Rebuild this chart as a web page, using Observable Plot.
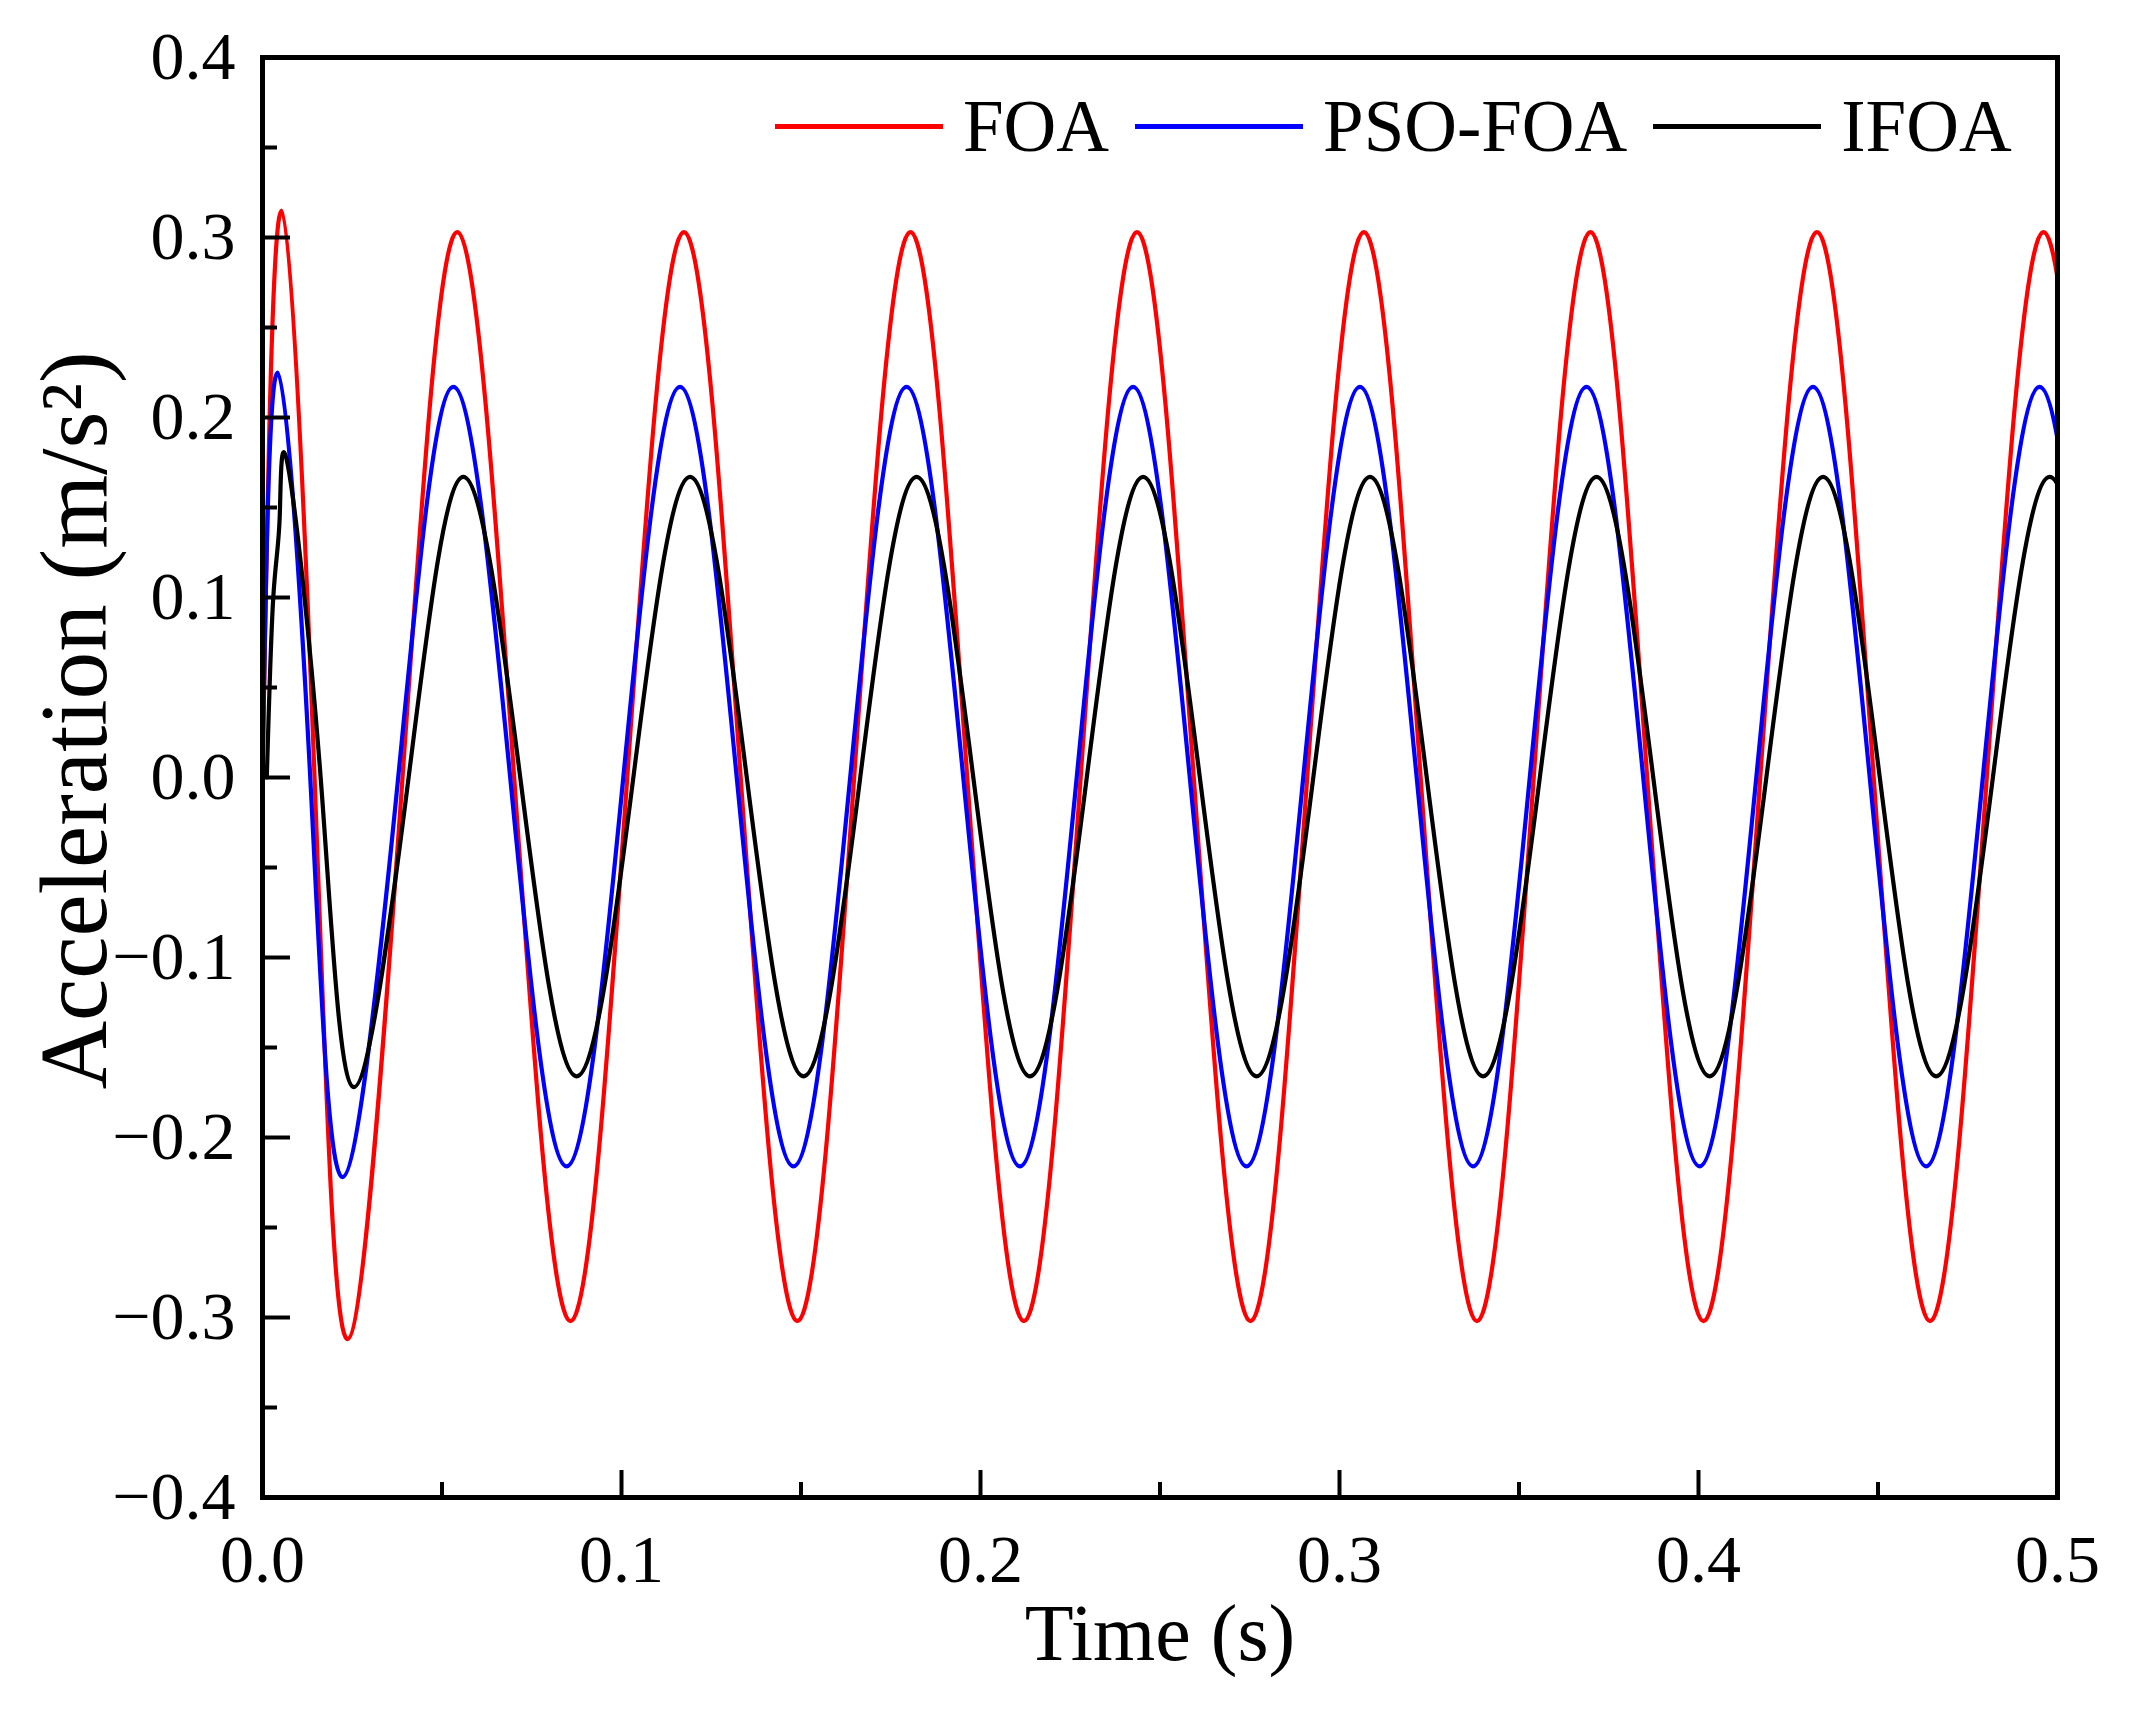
<!DOCTYPE html>
<html>
<head>
<meta charset="utf-8">
<script src="https://cdn.jsdelivr.net/npm/d3@7"></script>
<script src="https://cdn.jsdelivr.net/npm/@observablehq/plot@0.6"></script>
<style>
  body { margin: 0; background: #fff; }
  #chart { position: relative; width: 2142px; height: 1717px; }
  #legend {
    position: absolute; left: 775px; top: 90px;
    display: flex; align-items: center;
    font-family: "Liberation Serif", serif; font-size: 73px; line-height: 1;
  }
  #legend .sw { width: 168px; height: 4.5px; margin-right: 20px; }
  #legend .lb { margin-right: 26px; }
</style>
</head>
<body>
<div id="chart"><div id="legend"></div></div>
<script>
// series: time (s) of peaks / zero crossings / troughs
const seriesNames = ["FOA", "PSO-FOA", "IFOA"];
const seriesColors = ["#ff0000", "#0000ff", "#000000"];

const tFOA = [0, 0.0053, 0.0145, 0.0237, 0.0390, 0.0543, 0.0701, 0.0858, 0.1016, 0.1174,
  0.1332, 0.1490, 0.1648, 0.1805, 0.1963, 0.2121, 0.2279, 0.2436, 0.2594, 0.2752,
  0.2910, 0.3068, 0.3226, 0.3383, 0.3541, 0.3699, 0.3857, 0.4014, 0.4172, 0.4330,
  0.4488, 0.4645, 0.4803, 0.4961, 0.5119];
const aFOA = [0, 0.315, 0, -0.312, 0, 0.303, 0, -0.302, 0, 0.303,
  0, -0.302, 0, 0.303, 0, -0.302, 0, 0.303, 0, -0.302,
  0, 0.303, 0, -0.302, 0, 0.303, 0, -0.302, 0, 0.303,
  0, -0.302, 0, 0.303, 0];

const tPSO = [0, 0.0042, 0.0133, 0.0223, 0.0378, 0.0532, 0.0690, 0.0847, 0.1005, 0.1163,
  0.1321, 0.1479, 0.1637, 0.1794, 0.1952, 0.2110, 0.2268, 0.2425, 0.2583, 0.2741,
  0.2899, 0.3057, 0.3215, 0.3372, 0.3530, 0.3688, 0.3846, 0.4003, 0.4161, 0.4319,
  0.4477, 0.4634, 0.4792, 0.4950, 0.5108];
const aPSO = [0, 0.225, 0, -0.222, 0, 0.217, 0, -0.216, 0, 0.217,
  0, -0.216, 0, 0.217, 0, -0.216, 0, 0.217, 0, -0.216,
  0, 0.217, 0, -0.216, 0, 0.217, 0, -0.216, 0, 0.217,
  0, -0.216, 0, 0.217, 0];

const tIFOA = [0.0012, 0.0030, 0.0048, 0.0070, 0.0162, 0.0254, 0.0407, 0.0560, 0.0718,
  0.0875, 0.1033, 0.1191, 0.1349, 0.1507, 0.1665, 0.1822, 0.1980, 0.2138, 0.2296,
  0.2453, 0.2611, 0.2769, 0.2927, 0.3085, 0.3243, 0.3400, 0.3558, 0.3716, 0.3874,
  0.4031, 0.4189, 0.4347, 0.4505, 0.4662, 0.4820, 0.4978, 0.5136];
const aIFOA = [0, 0.10, 0.145, 0.174, 0, -0.172, 0, 0.167, 0,
  -0.166, 0, 0.167, 0, -0.166, 0, 0.167, 0, -0.166, 0,
  0.167, 0, -0.166, 0, 0.167, 0, -0.166, 0, 0.167, 0,
  -0.166, 0, 0.167, 0, -0.166, 0, 0.167, 0];

const xMajor = [0, 0.1, 0.2, 0.3, 0.4, 0.5];
const xMinor = [0.05, 0.15, 0.25, 0.35, 0.45];
const yMajor = [-0.4, -0.3, -0.2, -0.1, 0, 0.1, 0.2, 0.3, 0.4];
const yMinor = [-0.35, -0.25, -0.15, -0.05, 0.05, 0.15, 0.25, 0.35];
const xTitle = "Time (s)";
const yTitle = "Acceleration (m/s²)";

const W = 2142, H = 1717;
const mL = 262, mR = 85, mT = 57, mB = 220;
const innerW = W - mL - mR, innerH = H - mT - mB;

const rows = [
  ...tFOA.map((t, i) => ({series: "FOA", t, a: aFOA[i]})),
  ...tPSO.map((t, i) => ({series: "PSO-FOA", t, a: aPSO[i]})),
  ...tIFOA.map((t, i) => ({series: "IFOA", t, a: aIFOA[i]}))
];

const fmt = d3.format(".1f");

let chart = Plot.plot({
  width: W,
  height: H,
  marginLeft: mL,
  marginRight: mR,
  marginTop: mT,
  marginBottom: mB,
  x: { domain: [0, 0.5] },
  y: { domain: [-0.4, 0.4] },
  color: { domain: seriesNames, range: seriesColors },
  style: { fontFamily: "Liberation Serif", fontSize: "68px", background: "white", color: "black" },
  marks: [
    Plot.line(rows, { x: "t", y: "a", z: "series", stroke: "series", strokeWidth: 4.2, curve: "natural", clip: true }),
    Plot.tickX(xMajor, { x: (d) => d, insetTop: innerH - 27, strokeWidth: 4 }),
    Plot.tickX(xMinor, { x: (d) => d, insetTop: innerH - 15, strokeWidth: 4 }),
    Plot.tickY(yMajor, { y: (d) => d, insetRight: innerW - 28, strokeWidth: 4 }),
    Plot.tickY(yMinor, { y: (d) => d, insetRight: innerW - 15, strokeWidth: 4 }),
    Plot.axisX(xMajor, { tickSize: 0, tickPadding: 36, tickFormat: fmt, label: null, fontSize: 68 }),
    Plot.axisY(yMajor, { tickSize: 0, tickPadding: 27, tickFormat: fmt, label: null, fontSize: 68 }),
    Plot.frame({ strokeWidth: 5 }),
    Plot.text([xTitle], { frameAnchor: "bottom", dy: 162, fontSize: 80 }),
    Plot.text([yTitle], { frameAnchor: "left", textAnchor: "middle", rotate: -90, dx: -187, dy: -57, fontSize: 95 })
  ]
});

d3.select("#chart").insert(() => chart, "#legend");

// legend inside the frame, top right
const legend = d3.select("#legend");
seriesNames.forEach((name, i) => {
  legend.append("span").attr("class", "sw").style("background", seriesColors[i]);
  legend.append("span").attr("class", "lb").text(name);
});
d3.select(chart).style("position", "absolute").style("left", "0px").style("top", "0px");
</script>
</body>
</html>
